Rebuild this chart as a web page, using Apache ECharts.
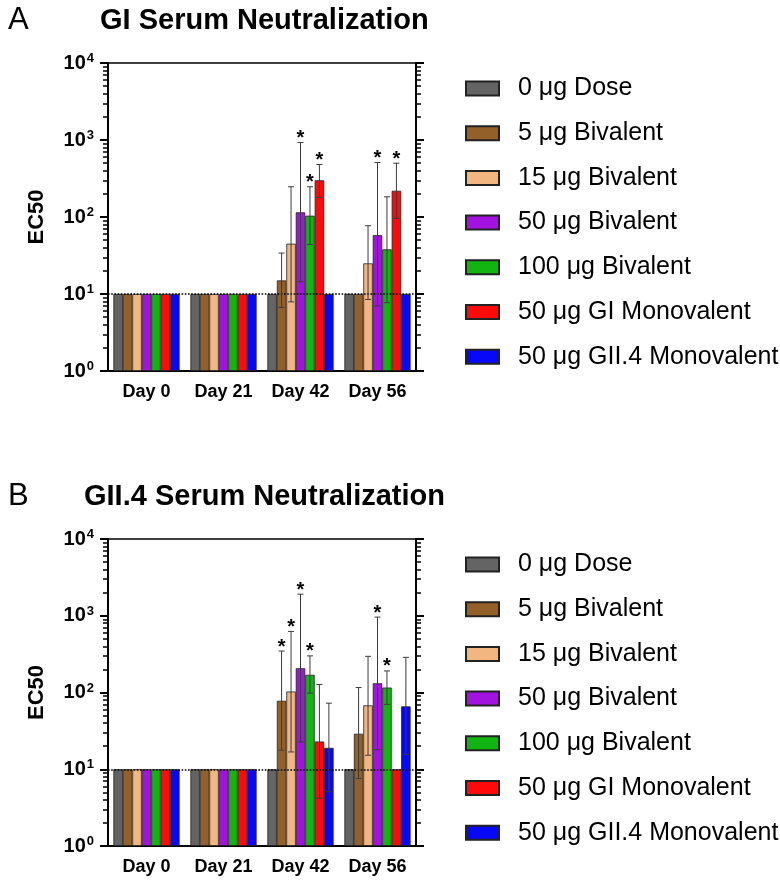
<!DOCTYPE html>
<html>
<head>
<meta charset="utf-8">
<script src="https://cdn.jsdelivr.net/npm/echarts@6/dist/echarts.min.js"></script>
<style>
  html, body { margin: 0; padding: 0; background: #fff; }
  #chart { width: 780px; height: 883px; }
</style>
</head>
<body>
<div id="chart"></div>
<script>
const days = ['Day 0', 'Day 21', 'Day 42', 'Day 56'];
const groups = ['0 μg Dose', '5 μg Bivalent', '15 μg Bivalent', '50 μg Bivalent',
  '100 μg Bivalent', '50 μg GI Monovalent', '50 μg GII.4 Monovalent'];
const groupColors = ['#646464', '#94602a', '#f2b781', '#a213df', '#12b412', '#ff0a0a', '#0808f8'];

const majorTicks = [1, 10, 100, 1000, 10000];
const minorTicks = [2, 3, 4, 5, 6, 7, 8, 9, 20, 30, 40, 50, 60, 70, 80, 90,
  200, 300, 400, 500, 600, 700, 800, 900, 2000, 3000, 4000, 5000, 6000, 7000, 8000, 9000];

// rows = groups, columns = days
const giMean = [
  [10, 10, 10, 10],
  [10, 10, 15, 10],
  [10, 10, 45, 25],
  [10, 10, 115, 58],
  [10, 10, 104, 38],
  [10, 10, 300, 219],
  [10, 10, 10, 10]
];
const giLow = [
  [null, null, null, null],
  [null, null, 6.7, null],
  [null, null, 7.9, 8.5],
  [null, null, 14.4, 7.0],
  [null, null, 44, 7.7],
  [null, null, 180, 96],
  [null, null, null, null]
];
const giHigh = [
  [null, null, null, null],
  [null, null, 34, null],
  [null, null, 247, 77],
  [null, null, 930, 510],
  [null, null, 247, 183],
  [null, null, 480, 500],
  [null, null, null, null]
];
const giStar = [
  [0, 0, 0, 0],
  [0, 0, 0, 0],
  [0, 0, 0, 0],
  [0, 0, 1, 1],
  [0, 0, 1, 0],
  [0, 0, 1, 1],
  [0, 0, 0, 0]
];

const gii4Mean = [
  [10, 10, 10, 10],
  [10, 10, 78, 29],
  [10, 10, 103, 68],
  [10, 10, 207, 132],
  [10, 10, 170, 116],
  [10, 10, 23, 10],
  [10, 10, 19, 66]
];
const gii4Low = [
  [null, null, null, null],
  [null, null, 17.7, 7.6],
  [null, null, 16.8, 15.2],
  [null, null, 22.6, 18],
  [null, null, 98, 70],
  [null, null, 4.2, null],
  [null, null, 5.1, 15.7]
];
const gii4High = [
  [null, null, null, null],
  [null, null, 347, 116],
  [null, null, 625, 296],
  [null, null, 1910, 960],
  [null, null, 300, 191],
  [null, null, 127, null],
  [null, null, 72.6, 287]
];
const gii4Star = [
  [0, 0, 0, 0],
  [0, 0, 1, 0],
  [0, 0, 1, 0],
  [0, 0, 1, 1],
  [0, 0, 1, 1],
  [0, 0, 0, 0],
  [0, 0, 0, 0]
];

const FONT = '"Liberation Sans", Arial, Helvetica, sans-serif';
const chart = echarts.init(document.getElementById('chart'));

function errorRender(params, api) {
  const day = api.value(0), low = api.value(1), high = api.value(2);
  const k = api.value(3), star = api.value(4);
  const band = api.coord([1, 10])[0] - api.coord([0, 10])[0];
  const barW = band * 0.86 / 7;
  const x = api.coord([day, 10])[0] + (k - 3) * barW;
  const yLow = api.coord([day, low])[1];
  const yHigh = api.coord([day, high])[1];
  const cap = 3;
  const style = { stroke: '#3c3c3c', lineWidth: 1 };
  const children = [
    { type: 'line', shape: { x1: x, y1: yLow, x2: x, y2: yHigh }, style: style },
    { type: 'line', shape: { x1: x - cap, y1: yHigh, x2: x + cap, y2: yHigh }, style: style },
    { type: 'line', shape: { x1: x - cap, y1: yLow, x2: x + cap, y2: yLow }, style: style }
  ];
  if (star) {
    children.push({
      type: 'text', x: x, y: yHigh + 6,
      style: { text: '*', fontSize: 20, fontWeight: 'bold', fill: '#000',
        align: 'center', verticalAlign: 'bottom', fontFamily: FONT }
    });
  }
  return { type: 'group', children: children };
}

function yAxes(gridIndex) {
  const base = {
    type: 'log', logBase: 10, min: 1, max: 10000, gridIndex: gridIndex,
    splitLine: { show: false },
    axisLine: { show: true, lineStyle: { color: '#000', width: 2 } }
  };
  const major = { show: true, length: 8, customValues: majorTicks, lineStyle: { color: '#000', width: 2 } };
  const minor = { show: true, length: 5, customValues: minorTicks, lineStyle: { color: '#000', width: 1.5 } };
  return [
    Object.assign({}, base, {
      position: 'left',
      name: 'EC50', nameLocation: 'middle', nameGap: 60,
      nameTextStyle: { fontSize: 22, fontWeight: 'bold', color: '#000', fontFamily: FONT },
      axisTick: major,
      axisLabel: {
        customValues: majorTicks, margin: 14,
        formatter: function (v) {
          return '{b|10}{s|' + Math.round(Math.log10(v)) + '}';
        },
        rich: {
          b: { fontSize: 20, fontWeight: 'bold', color: '#000', fontFamily: FONT },
          s: { fontSize: 13, fontWeight: 'bold', color: '#000', fontFamily: FONT, padding: [0, 0, 9, 1] }
        }
      }
    }),
    Object.assign({}, base, { position: 'left', axisTick: minor, axisLabel: { show: false } }),
    Object.assign({}, base, { position: 'right', axisTick: major, axisLabel: { show: false } }),
    Object.assign({}, base, { position: 'right', axisTick: minor, axisLabel: { show: false } })
  ];
}

function xAxis(gridIndex) {
  return {
    type: 'category', gridIndex: gridIndex, data: days,
    axisTick: { show: false },
    axisLine: { onZero: false, lineStyle: { color: '#000', width: 2 } },
    axisLabel: { color: '#000', fontSize: 18, fontWeight: 'bold', margin: 12, fontFamily: FONT }
  };
}

function panelSeries(gridIndex, mean, low, high, star) {
  const yIdx = gridIndex * 4;
  const out = groups.map(function (name, k) {
    const s = {
      name: name, type: 'bar', xAxisIndex: gridIndex, yAxisIndex: yIdx,
      data: mean[k], barGap: '0%', barCategoryGap: '14%',
      itemStyle: { color: groupColors[k], borderColor: '#222', borderWidth: 0.8 }
    };
    if (k === 0) {
      s.markLine = {
        silent: true, symbol: 'none', label: { show: false },
        lineStyle: { type: 'dotted', color: '#000', width: 1.6 },
        data: [{ yAxis: 10 }]
      };
    }
    return s;
  });
  const errData = [];
  groups.forEach(function (name, k) {
    days.forEach(function (d, j) {
      if (low[k][j] != null) errData.push([j, low[k][j], high[k][j], k, star[k][j]]);
    });
  });
  out.push({
    type: 'custom', name: 'err' + gridIndex, xAxisIndex: gridIndex, yAxisIndex: yIdx,
    renderItem: errorRender, data: errData, z: 5, silent: true
  });
  return out;
}

function legend(top) {
  return {
    data: groups, orient: 'vertical', left: 465, top: top, padding: 0,
    icon: 'rect', itemWidth: 33, itemHeight: 14, itemGap: 19.7,
    textStyle: { fontSize: 25, lineHeight: 24, color: '#000', fontFamily: FONT, padding: [0, 0, 0, 14] }
  };
}

const option = {
  animation: false,
  backgroundColor: '#fff',
  title: [
    { text: 'A', left: 3, top: 0, textStyle: { fontSize: 31, fontWeight: 'normal', color: '#000', fontFamily: FONT } },
    { text: 'GI Serum Neutralization', left: 95, top: 1, textStyle: { fontSize: 29, fontWeight: 'bold', color: '#000', fontFamily: FONT } },
    { text: 'B', left: 3, top: 476, textStyle: { fontSize: 31, fontWeight: 'normal', color: '#000', fontFamily: FONT } },
    { text: 'GII.4 Serum Neutralization', left: 79, top: 477, textStyle: { fontSize: 29, fontWeight: 'bold', color: '#000', fontFamily: FONT } }
  ],
  legend: [legend(76), legend(552)],
  grid: [
    { left: 108, top: 63, width: 308, height: 308, show: true, borderColor: '#000', borderWidth: 1.5 },
    { left: 108, top: 539, width: 308, height: 307, show: true, borderColor: '#000', borderWidth: 1.5 }
  ],
  xAxis: [xAxis(0), xAxis(1)],
  yAxis: yAxes(0).concat(yAxes(1)),
  series: panelSeries(0, giMean, giLow, giHigh, giStar)
    .concat(panelSeries(1, gii4Mean, gii4Low, gii4High, gii4Star))
};

chart.setOption(option);
</script>
</body>
</html>
